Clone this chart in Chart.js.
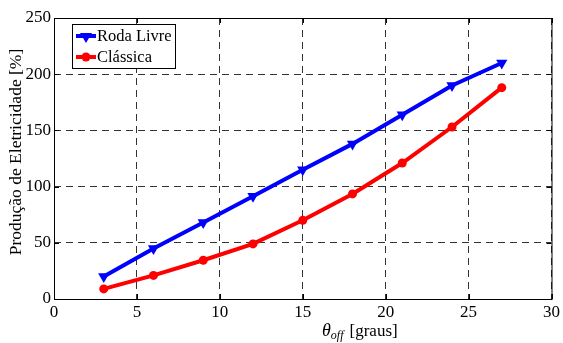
<!DOCTYPE html>
<html>
<head>
<meta charset="utf-8">
<script src="https://cdn.jsdelivr.net/npm/chart.js@4/dist/chart.umd.min.js"></script>
<style>
  html, body { margin: 0; padding: 0; background: #fff; }
  #wrap { width: 563px; height: 343px; position: relative; }
</style>
</head>
<body>
<div id="wrap"><canvas id="c" width="563" height="343"></canvas></div>
<script>
// data
const thetaOff = [3, 6, 9, 12, 15, 18, 21, 24, 27];
const rodaLivre = [20, 45, 68, 91.5, 115, 138, 164, 190, 210];
const classica = [9, 21, 34.5, 49, 70, 93.5, 121, 153, 188];
const seriesNames = ['Roda Livre', 'Clássica'];
const xTicks = [0, 5, 10, 15, 20, 25, 30];
const yTicks = [0, 50, 100, 150, 200, 250];

const SERIF = '"Liberation Serif", "Times New Roman", serif';

// frame, inward ticks, axis titles, legend box
const extras = {
  id: 'extras',
  afterDraw(chart) {
    const ctx = chart.ctx;
    const a = chart.chartArea;
    const xs = chart.scales.x, ys = chart.scales.y;
    ctx.save();
    ctx.strokeStyle = '#000';
    ctx.lineWidth = 1;
    ctx.strokeRect(a.left + 0.5, a.top + 0.5, a.right - a.left, a.bottom - a.top);
    ctx.beginPath();
    xTicks.forEach(v => {
      const px = Math.round(xs.getPixelForValue(v)) + 0.5;
      ctx.moveTo(px, a.bottom); ctx.lineTo(px, a.bottom - 5);
      ctx.moveTo(px, a.top); ctx.lineTo(px, a.top + 5);
    });
    yTicks.forEach(v => {
      const py = Math.round(ys.getPixelForValue(v)) + 0.5;
      ctx.moveTo(a.left, py); ctx.lineTo(a.left + 5, py);
      ctx.moveTo(a.right, py); ctx.lineTo(a.right - 5, py);
    });
    ctx.stroke();

    // y title
    ctx.fillStyle = '#000';
    ctx.font = '17.5px ' + SERIF;
    ctx.textAlign = 'center';
    ctx.textBaseline = 'middle';
    ctx.translate(16, 152);
    ctx.rotate(-Math.PI / 2);
    ctx.fillText('Produção de Eletricidade [%]', 0, 0);
    ctx.restore();

    // x title: theta_off [graus]
    ctx.save();
    ctx.fillStyle = '#000';
    ctx.textBaseline = 'alphabetic';
    ctx.textAlign = 'left';
    let x = 322, y = 336;
    ctx.font = 'italic 18px ' + SERIF;
    ctx.fillText('θ', x, y);
    x += ctx.measureText('θ').width;
    ctx.font = 'italic 12px ' + SERIF;
    ctx.fillText('off', x, y + 3);
    x += ctx.measureText('off').width + 6;
    ctx.font = '17px ' + SERIF;
    ctx.fillText('[graus]', x, y);
    ctx.restore();

    // legend
    ctx.save();
    const lx = 72, ly = 24, lw = 103, lh = 44;
    ctx.fillStyle = '#fff';
    ctx.fillRect(lx, ly, lw, lh);
    ctx.strokeStyle = '#000';
    ctx.lineWidth = 1;
    ctx.strokeRect(lx + 0.5, ly + 0.5, lw, lh);
    ctx.font = '16.5px ' + SERIF;
    ctx.textBaseline = 'middle';
    chart.data.datasets.forEach((ds, i) => {
      const cy = ly + 12 + i * 21;
      ctx.strokeStyle = ds.borderColor;
      ctx.fillStyle = ds.borderColor;
      ctx.lineWidth = 4;
      ctx.beginPath();
      ctx.moveTo(lx + 4, cy); ctx.lineTo(lx + 24, cy);
      ctx.stroke();
      ctx.beginPath();
      if (i === 0) {
        ctx.moveTo(lx + 8, cy - 3); ctx.lineTo(lx + 20, cy - 3); ctx.lineTo(lx + 14, cy + 7);
        ctx.closePath();
      } else {
        ctx.arc(lx + 14, cy, 4.5, 0, Math.PI * 2);
      }
      ctx.fill();
      ctx.fillStyle = '#000';
      ctx.fillText(ds.label, lx + 25, cy + 1);
    });
    ctx.restore();
  }
};

new Chart(document.getElementById('c'), {
  type: 'line',
  data: {
    datasets: [
      {
        label: seriesNames[0],
        data: thetaOff.map((t, i) => ({ x: t, y: rodaLivre[i] })),
        borderColor: '#0000ff',
        backgroundColor: '#0000ff',
        borderWidth: 4,
        pointStyle: 'triangle',
        rotation: 180,
        pointRadius: 6.5,
        pointBorderWidth: 0,
        tension: 0
      },
      {
        label: seriesNames[1],
        data: thetaOff.map((t, i) => ({ x: t, y: classica[i] })),
        borderColor: '#ff0000',
        backgroundColor: '#ff0000',
        borderWidth: 4,
        pointStyle: 'circle',
        pointRadius: 4.5,
        pointBorderWidth: 0,
        tension: 0
      }
    ]
  },
  options: {
    responsive: false,
    animation: false,
    layout: { padding: { left: 0, right: 11, top: 18, bottom: 0 } },
    plugins: { legend: { display: false }, tooltip: { enabled: false } },
    scales: {
      x: {
        type: 'linear', min: 0, max: 30,
        afterBuildTicks: s => { s.ticks = xTicks.map(v => ({ value: v })); },
        afterFit: s => { s.height = 44; },
        border: { display: false, dash: [7, 5] },
        grid: { color: '#333', lineWidth: 1, drawTicks: false },
        ticks: { color: '#000', font: { family: SERIF, size: 17 }, padding: 3, maxRotation: 0 }
      },
      y: {
        type: 'linear', min: 0, max: 250,
        afterBuildTicks: s => { s.ticks = yTicks.map(v => ({ value: v })); },
        afterFit: s => { s.width = 54; },
        border: { display: false, dash: [7, 5] },
        grid: { color: '#333', lineWidth: 1, drawTicks: false },
        ticks: { color: '#000', font: { family: SERIF, size: 17 }, padding: 3 }
      }
    }
  },
  plugins: [extras]
});
</script>
</body>
</html>
